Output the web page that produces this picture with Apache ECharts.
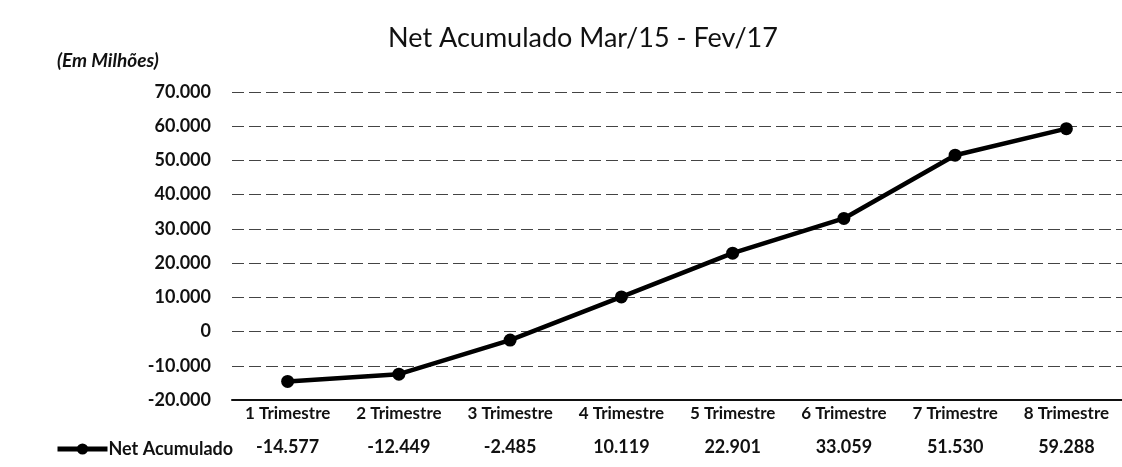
<!DOCTYPE html>
<html>
<head>
<meta charset="utf-8">
<script src="https://cdn.jsdelivr.net/npm/echarts@6/dist/echarts.min.js"></script>
<style>
  html, body { margin: 0; padding: 0; background: #fff; }
  #chart { width: 1122px; height: 467px; }
</style>
</head>
<body>
<div id="chart"></div>
<script>
const categories = ['1 Trimestre', '2 Trimestre', '3 Trimestre', '4 Trimestre', '5 Trimestre', '6 Trimestre', '7 Trimestre', '8 Trimestre']
const netAcumulado = [-14577, -12449, -2485, 10119, 22901, 33059, 51530, 59288]
const seriesName = 'Net Acumulado'
const yMin = -20000
const yMax = 70000
const yStep = 10000

const font = 'Lato, "Open Sans", sans-serif'

// 10000 -> "10.000"
const fmt = (v) => {
  const s = String(Math.abs(Math.round(v))).replace(/\B(?=(\d{3})+(?!\d))/g, '.')
  return (v < 0 ? '-' : '') + s
}

const chart = echarts.init(document.getElementById('chart'))

chart.setOption({
  animation: false,
  textStyle: { fontFamily: font },
  title: [
    {
      text: 'Net Acumulado Mar/15 - Fev/17',
      left: 578,
      textAlign: 'center',
      top: 20,
      textStyle: { fontFamily: font, fontSize: 27, fontWeight: 'normal', color: '#111' },
    },
    {
      text: '(Em Milhões)',
      left: 52,
      top: 46,
      textStyle: { fontFamily: font, fontSize: 19, fontWeight: 'bold', fontStyle: 'italic', color: '#111' },
    },
  ],
  legend: {
    left: 50,
    top: 435,
    itemWidth: 50,
    itemHeight: 14,
    itemGap: 0,
    data: [seriesName],
    lineStyle: { width: 5, color: '#000' },
    textStyle: { fontFamily: font, fontSize: 18, fontWeight: 'bold', color: '#111', padding: [0, 0, 0, -4] },
  },
  grid: { left: 232, right: 0, top: 92, bottom: 67 },
  xAxis: [
    {
      type: 'category',
      data: categories,
      boundaryGap: true,
      axisLine: { onZero: false, lineStyle: { color: '#111', width: 2 } },
      axisTick: { show: false },
      axisLabel: { interval: 0, margin: 5, fontFamily: font, fontSize: 17, fontWeight: 'bold', color: '#111' },
    },
    {
      type: 'category',
      position: 'bottom',
      offset: 35,
      data: netAcumulado.map(fmt),
      boundaryGap: true,
      axisLine: { show: false },
      axisTick: { show: false },
      axisLabel: { interval: 0, margin: 3, fontFamily: font, fontSize: 18, fontWeight: 'bold', color: '#111' },
    },
  ],
  yAxis: {
    type: 'value',
    min: yMin,
    max: yMax,
    interval: yStep,
    axisLine: { show: false },
    axisTick: { show: false },
    axisLabel: {
      margin: 21,
      fontFamily: font,
      fontSize: 18,
      fontWeight: 'bold',
      color: '#111',
      formatter: fmt,
    },
    splitLine: { lineStyle: { color: '#444', width: 1, type: [12, 5] } },
  },
  series: [
    {
      name: seriesName,
      type: 'line',
      data: netAcumulado,
      symbol: 'circle',
      symbolSize: 13,
      color: '#000',
      lineStyle: { width: 4.5, color: '#000' },
      itemStyle: { color: '#000' },
    },
  ],
})
</script>
</body>
</html>
